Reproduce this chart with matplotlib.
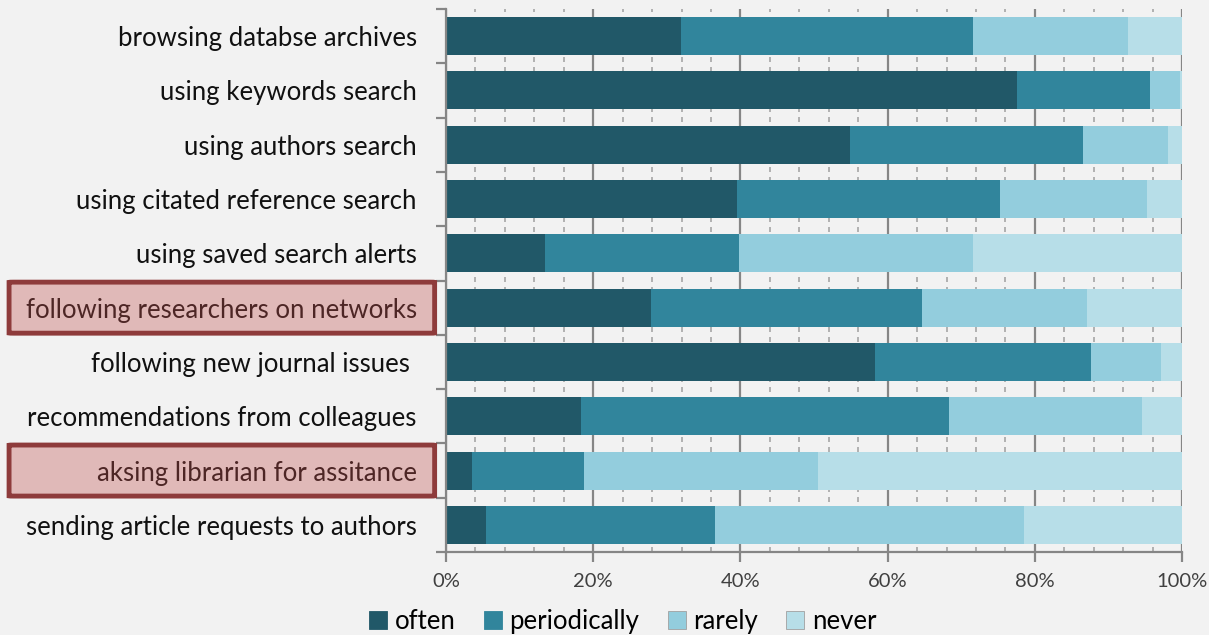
import numpy as np
from matplotlib import pyplot as plt
from matplotlib.patches import FancyBboxPatch
from matplotlib.lines import Line2D
import matplotlib.transforms as mtransforms

plt.rcParams['font.family'] = ['Lato', 'DejaVu Sans']

categories = ['browsing databse archives', 'using keywords search', 'using authors search',
              'using citated reference search', 'using saved search alerts',
              'following researchers on networks', 'following new journal issues ',
              'recommendations from colleagues', 'aksing librarian for assitance',
              'sending article requests to authors']
series_names = ['often', 'periodically', 'rarely', 'never']
often = [31.9, 77.6, 54.9, 39.6, 13.5, 27.8, 58.3, 18.3, 3.6, 5.4]
periodically = [39.7, 18.1, 31.7, 35.7, 26.3, 36.9, 29.3, 50.0, 15.2, 31.1]
rarely = [21.1, 4.0, 11.5, 20.0, 31.8, 22.4, 9.6, 26.3, 31.8, 42.0]
never = [7.3, 0.3, 1.9, 4.7, 28.4, 12.9, 2.8, 5.4, 49.4, 21.5]
highlighted = ['following researchers on networks', 'aksing librarian for assitance']

colors = ['#215868', '#31859C', '#93CDDD', '#B7DEE8']
bg = '#f2f2f2'

fig = plt.figure(figsize=(12.09, 6.35), dpi=100, facecolor=bg)
ax = fig.add_axes([0.3689, 0.1307, 0.6088, 0.8551], facecolor=bg)

ypos = np.arange(len(categories))
data = np.array([often, periodically, rarely, never]) / 100.0
left = np.zeros(len(categories))
for i, name in enumerate(series_names):
    ax.barh(ypos, data[i], left=left, height=0.70, color=colors[i], label=name,
            edgecolor='none', zorder=2)
    left += data[i]

ax.set_xlim(0, 1)
ax.set_ylim(len(categories) - 0.5, -0.5)
ax.set_xticks(np.arange(0, 1.01, 0.2))
ax.set_xticklabels(['{:d}%'.format(int(round(v * 100))) for v in np.arange(0, 1.01, 0.2)])
ax.set_xticks(np.arange(0, 1.001, 0.04), minor=True)
ax.set_yticks(ypos)
ax.set_yticklabels(categories)
ax.set_yticks(np.arange(-0.5, len(categories), 1.0), minor=True)

ax.set_axisbelow(True)
ax.grid(axis='x', which='major', color='#868686', lw=1.6, zorder=0)
ax.grid(axis='x', which='minor', color='#a6a6a6', lw=1.2, ls=(0, (3, 3)), zorder=0)

for s in ['top', 'right']:
    ax.spines[s].set_visible(False)
for s in ['left', 'bottom']:
    ax.spines[s].set_color('#868686')
    ax.spines[s].set_linewidth(1.6)

ax.tick_params(axis='x', which='major', length=7, width=1.6, color='#868686',
               labelsize=14.5, labelcolor='#404040', pad=8)
ax.tick_params(axis='x', which='minor', length=0)
ax.tick_params(axis='y', which='major', length=0, labelsize=18.5, labelcolor='#111111', pad=21)
ax.tick_params(axis='y', which='minor', length=7, width=1.6, color='#868686')

# highlight boxes around two labels
trans = mtransforms.blended_transform_factory(fig.transFigure, ax.transData)
for name in highlighted:
    i = categories.index(name)
    box = FancyBboxPatch((0.0075, i - 0.47), 0.352, 0.94, boxstyle='round,pad=0,rounding_size=0.004',
                         transform=trans, facecolor=(0.75, 0.31, 0.30, 0.35),
                         edgecolor='#8e3b3b', lw=3.5, clip_on=False, zorder=5)
    ax.add_patch(box)

handles = [Line2D([], [], marker='s', ls='none', markersize=13, markerfacecolor=c,
                  markeredgecolor='#a0a0a0' if k >= 2 else c, markeredgewidth=0.6)
           for k, c in enumerate(colors)]
fig.legend(handles, series_names, loc='center', bbox_to_anchor=(0.515, 0.022), ncol=4,
           frameon=False, fontsize=18.5, handlelength=0.7, handletextpad=0.3,
           columnspacing=1.1)

plt.savefig('out.png', dpi=100, facecolor=bg)
